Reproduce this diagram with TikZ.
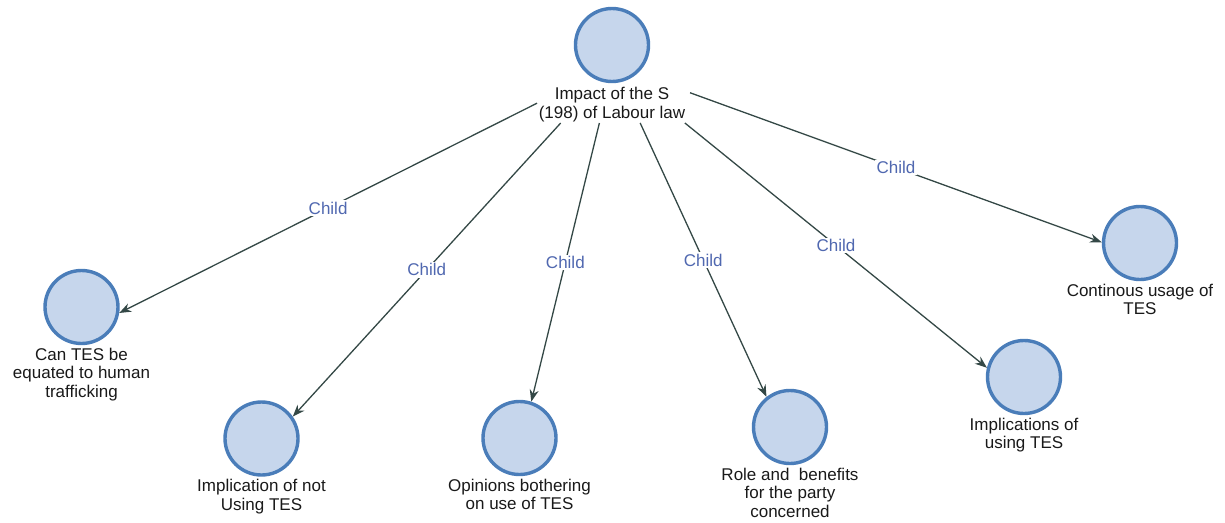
\documentclass[tikz,border=0pt]{standalone}
\usepackage{fontspec}
\setmainfont{Liberation Sans}
\usetikzlibrary{arrows.meta}
\definecolor{nodefill}{RGB}{198,214,236}
\definecolor{nodeline}{RGB}{74,125,185}
\definecolor{edgecol}{RGB}{52,72,70}
\definecolor{labcol}{RGB}{80,104,176}
\definecolor{txtcol}{RGB}{25,25,25}
\begin{document}
\begin{tikzpicture}[x=1pt,y=-1pt,
  topic/.style={circle,draw=nodeline,fill=nodefill,line width=3.4pt,minimum size=73pt,inner sep=0pt},
  caption/.style={anchor=north,align=center,inner sep=0pt,text=txtcol,font=\fontsize{17}{18.5}\selectfont},
  link/.style={draw=edgecol,line width=1.3pt,-{Stealth[length=12pt,width=9pt]}},
  rel/.style={fill=white,text=labcol,inner sep=1.5pt,font=\fontsize{17}{18}\selectfont},
  group/.style={rectangle,inner sep=0pt,outer sep=0pt,minimum width=153pt,minimum height=116pt}
]
\useasboundingbox (0,0) rectangle (1225,522);

% root
\node[group] (rg) at (613.5,65) {};
\node[topic] (root) at (612,45) {};
\node[caption] (troot) at ([yshift=-4pt]root.south) {Impact of the S\\(198) of Labour law};

% children
\node[topic] (c1) at (81.5,307) {};
\node[caption] (t1) at ([yshift=-2.5pt]c1.south) {Can TES be\\equated to human\\trafficking};
\node[topic] (c2) at (261.5,438.5) {};
\node[caption] (t2) at ([yshift=-2.5pt]c2.south) {Implication of not\\Using TES};
\node[topic] (c3) at (519.5,438) {};
\node[caption] (t3) at ([yshift=-2.5pt]c3.south) {Opinions bothering\\on use of TES};
\node[topic] (c4) at (790,427) {};
\node[caption] (t4) at ([yshift=-2.5pt]c4.south) {Role and~ benefits\\for the party\\concerned};
\node[topic] (c5) at (1024,377) {};
\node[caption] (t5) at ([yshift=-2.5pt]c5.south) {Implications of\\using TES};
\node[topic] (c6) at (1140,243) {};
\node[caption] (t6) at ([yshift=-2.5pt]c6.south) {Continous usage of\\TES};

% connectors
\draw[link] (rg) -- (c1.-9) node[rel,midway] (l1) {Child};
\draw[link] (rg) -- (c2.35) node[rel,midway] (l2) {Child};
\draw[link] (rg) -- (c3.72) node[rel,midway] (l3) {Child};
\draw[link] (rg) -- (c4.128) node[rel,midway] (l4) {Child};
\draw[link] (rg) -- (c5.166) node[rel,midway] (l5) {Child};
\draw[link] (rg) -- (c6.179) node[rel,midway] (l6) {Child};
\end{tikzpicture}
\end{document}
